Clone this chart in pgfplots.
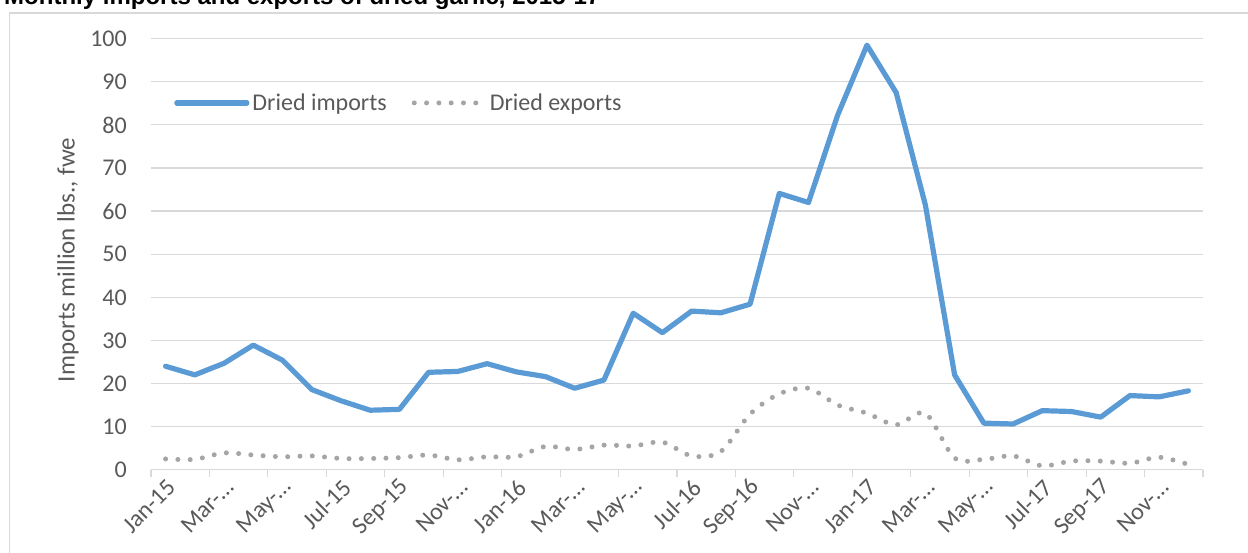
\documentclass[border=0pt]{standalone}
\usepackage{pgfplots}
\usepackage{pgfplotstable}
\pgfplotsset{compat=1.18}
\usepackage{fontspec}
\setmainfont{Carlito}
\newfontfamily\titlefont{Liberation Sans}
\definecolor{impblue}{HTML}{5B9BD5}
\definecolor{expgray}{HTML}{A5A5A5}
\definecolor{txtgray}{HTML}{595959}
\definecolor{gridgray}{HTML}{D9D9D9}
\pgfplotstableread{
m imp exp
0 24.0 2.5
1 22.0 2.4
2 24.7 3.9
3 28.9 3.4
4 25.4 3.0
5 18.6 3.2
6 16.0 2.6
7 13.8 2.6
8 14.0 2.8
9 22.6 3.4
10 22.8 2.3
11 24.6 3.0
12 22.7 3.0
13 21.6 5.4
14 18.9 4.7
15 20.8 5.7
16 36.3 5.5
17 31.8 6.4
18 36.8 3.2
19 36.4 4.2
20 38.4 12.9
21 64.1 17.6
22 62.0 18.9
23 82.3 15.0
24 98.5 13.1
25 87.5 10.4
26 61.4 13.1
27 22.0 2.7
28 10.8 2.4
29 10.6 3.2
30 13.7 0.9
31 13.5 2.0
32 12.2 2.0
33 17.2 1.5
34 16.9 2.9
35 18.3 1.2
}\datatable
\begin{document}
\begin{tikzpicture}[x=1pt,y=1pt]
\begin{axis}[
  at={(151pt,82.3pt)}, anchor=south west,
  scale only axis, width=1052pt, height=431pt,
  xmin=-0.5, xmax=35.5, ymin=0, ymax=100,
  clip=false,
  axis x line*=bottom, axis y line*=left,
  y axis line style={draw=none},
  x axis line style={gridgray, line width=1.3pt},
  ytick={0,10,...,100},
  ymajorgrids, grid style={gridgray, line width=1.2pt},
  xtick={0,2,...,34},
  xticklabels={Jan-15,Mar-…,May-…,Jul-15,Sep-15,Nov-…,Jan-16,Mar-…,May-…,Jul-16,Sep-16,Nov-…,Jan-17,Mar-…,May-…,Jul-17,Sep-17,Nov-…},
  minor xtick={-0.5,1.5,...,35.5},
  major tick length=0pt, minor tick length=7pt,
  tick align=outside,
  minor tick style={gridgray, line width=1.2pt},
  tick label style={font=\fontsize{24}{28}\selectfont, text=txtgray},
  /pgf/number format/assume math mode=true,
  yticklabel style={inner sep=0pt, xshift=-24pt},
  xticklabel style={inner sep=0pt, xshift=6pt, yshift=-14pt, rotate=45, anchor=east},
  ylabel={Imports million lbs., fwe},
  every axis y label/.style={at={(axis description cs:-0.0789,0.4866)}, rotate=90, anchor=center,
    font=\fontsize{25}{29}\selectfont, text=txtgray},
  legend style={at={(axis description cs:0.0219,0.851)}, anchor=west, draw=none, fill=none,
    inner sep=0pt, font=\fontsize{24}{28}\selectfont, text=txtgray,
    nodes={inner sep=3pt}, /tikz/every even column/.append style={column sep=22pt}},
  legend columns=2,
  legend image code/.code={\draw[#1] (0pt,0pt) -- (70pt,0pt);},
]
\addplot[impblue, line width=5.2pt, line cap=round, line join=round] table[x=m, y=imp] {\datatable};
\addlegendentry{Dried imports}
\addplot[expgray, line width=5pt, line cap=round, dash pattern=on 0pt off 12.3pt, smooth] table[x=m, y=exp] {\datatable};
\addlegendentry{Dried exports}
\end{axis}
\pgfresetboundingbox
\useasboundingbox (0pt,0pt) rectangle (1248pt,552pt);
\draw[gridgray, line width=1.2pt] (9.5pt,-20pt) rectangle (1270pt,539pt);
\node[anchor=base west, inner sep=0pt, font=\titlefont\bfseries\fontsize{24}{28}\selectfont] at (4pt,547pt) {Monthly imports and exports of dried garlic, 2015-17};
\end{tikzpicture}
\end{document}
